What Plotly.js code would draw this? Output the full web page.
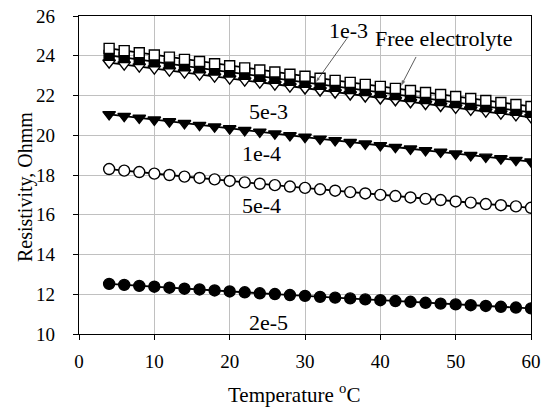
<!DOCTYPE html>
<html>
<head>
<meta charset="utf-8">
<script src="https://cdn.plot.ly/plotly-3.0.1.min.js"></script>
<style>html,body{margin:0;padding:0;background:#fff;}#chart{width:544px;height:407px;}</style>
</head>
<body>
<div id="chart"></div>
<script>
// Temperature (°C)
const temperature = [4,6,8,10,12,14,16,18,20,22,24,26,28,30,32,34,36,38,40,42,44,46,48,50,52,54,56,58,60];

// Resistivity (Ohmm) per concentration
const res_1e3 = [24.37,24.26,24.15,24.04,23.93,23.82,23.71,23.60,23.50,23.39,23.28,23.18,23.07,22.97,22.87,22.76,22.66,22.56,22.46,22.36,22.25,22.15,22.05,21.95,21.85,21.75,21.65,21.55,21.45];
const res_free = [24.02,23.91,23.81,23.70,23.60,23.49,23.39,23.28,23.18,23.07,22.97,22.87,22.76,22.66,22.56,22.46,22.35,22.25,22.15,22.05,21.95,21.85,21.75,21.65,21.55,21.45,21.35,21.25,21.15];
const res_5e3 = [23.65,23.55,23.45,23.35,23.25,23.15,23.05,22.95,22.85,22.75,22.65,22.55,22.45,22.35,22.25,22.15,22.05,21.95,21.85,21.76,21.66,21.57,21.47,21.38,21.28,21.19,21.09,21.00,20.90];
const res_1e4 = [21.05,20.96,20.87,20.78,20.69,20.60,20.51,20.43,20.34,20.25,20.17,20.08,19.99,19.91,19.82,19.74,19.65,19.57,19.49,19.40,19.32,19.24,19.16,19.07,18.99,18.91,18.83,18.75,18.67];
const res_5e4 = [18.30,18.22,18.15,18.07,18.00,17.92,17.85,17.78,17.70,17.63,17.56,17.49,17.42,17.35,17.28,17.21,17.14,17.07,17.00,16.94,16.87,16.80,16.74,16.67,16.61,16.54,16.48,16.42,16.35];
const res_2e5 = [12.52,12.47,12.42,12.38,12.33,12.28,12.24,12.19,12.14,12.10,12.05,12.01,11.96,11.92,11.87,11.83,11.79,11.74,11.70,11.66,11.62,11.57,11.53,11.49,11.45,11.41,11.37,11.33,11.29];

const labels = ["1e-3","Free electrolyte","5e-3","1e-4","5e-4","2e-5"];
const xTitle = "Temperature <sup>o</sup>C";
const yTitle = "Resistivity, Ohmm";

// Label pointer lines (tail -> tip), in data units
const pointer_1e3_x = [35.6, 31.46];
const pointer_1e3_y = [24.89, 22.68];
const pointer_free_x = [44.74, 42.74];
const pointer_free_y = [23.94, 22.48];

const FONT = "Liberation Serif, Times New Roman, serif";

function tr(name, y, symbol, fill, size) {
  return {
    type: "scatter", mode: "lines+markers", name: name,
    x: temperature, y: y,
    line: {color: "#000", width: 1.8},
    marker: {symbol: symbol, size: size, color: fill, line: {color: "#000", width: 1.4}}
  };
}

function pointer(xs, ys, headSize) {
  return {
    type: "scatter", mode: "lines+markers", x: xs, y: ys, hoverinfo: "skip",
    line: {color: "#333", width: 0.8},
    marker: {symbol: ["circle", "arrow"], size: [0, headSize], color: "#333",
             angleref: "previous", line: {width: 0}}
  };
}

const data = [
  tr(labels[5], res_2e5, "circle", "#000", 11),
  tr(labels[4], res_5e4, "circle", "#fff", 11),
  tr(labels[3], res_1e4, "triangle-down", "#000", 11),
  tr(labels[2], res_5e3, "triangle-down", "#fff", 11),
  tr(labels[1], res_free, "square", "#000", 10),
  tr(labels[0], res_1e3, "square", "#fff", 10),
  pointer(pointer_1e3_x, pointer_1e3_y, 5),
  pointer(pointer_free_x, pointer_free_y, 6)
];

const annFont = {family: FONT, size: 22, color: "#000"};
const annotations = [
  {x: 35.84, y: 25.25, text: labels[0], showarrow: false, font: annFont, xref: "x", yref: "y"},
  {x: 48.4, y: 24.89, text: labels[1], showarrow: false, font: annFont, xref: "x", yref: "y"},
  {x: 25.2, y: 21.22, text: labels[2], showarrow: false, font: annFont, xref: "x", yref: "y"},
  {x: 24.2, y: 19.08, text: labels[3], showarrow: false, font: annFont, xref: "x", yref: "y"},
  {x: 24.2, y: 16.49, text: labels[4], showarrow: false, font: annFont, xref: "x", yref: "y"},
  {x: 25.2, y: 10.60, text: labels[5], showarrow: false, font: annFont, xref: "x", yref: "y"},
  {x: 0.4757, y: -0.186, xref: "paper", yref: "paper", xanchor: "center", yanchor: "middle",
   text: xTitle, showarrow: false, font: {family: FONT, size: 21, color: "#000"}},
  {x: -0.1195, y: 0.462, xref: "paper", yref: "paper", xanchor: "center", yanchor: "middle",
   text: yTitle, showarrow: false, textangle: -90, font: {family: FONT, size: 20, color: "#000"}}
];

const layout = {
  width: 544, height: 407,
  margin: {l: 79, r: 13, t: 16, b: 73},
  paper_bgcolor: "#fff", plot_bgcolor: "#fff",
  showlegend: false,
  font: {family: FONT, size: 19, color: "#000"},
  xaxis: {
    range: [0, 60], dtick: 10, tick0: 0,
    showgrid: true, gridcolor: "#c0c0c0", gridwidth: 1,
    zeroline: false, showline: true, linecolor: "#000", linewidth: 1.3, mirror: true,
    ticks: "outside", ticklen: 5, tickcolor: "#000",
    ticklabelstandoff: 5,
    tickfont: {family: FONT, size: 19}
  },
  yaxis: {
    range: [10, 26], dtick: 2, tick0: 10,
    showgrid: true, gridcolor: "#c0c0c0", gridwidth: 1,
    zeroline: false, showline: true, linecolor: "#000", linewidth: 1.3, mirror: true,
    ticks: "outside", ticklen: 5, tickcolor: "#000",
    ticklabelstandoff: 14,
    tickfont: {family: FONT, size: 19}
  },
  annotations: annotations
};

Plotly.newPlot("chart", data, layout, {staticPlot: true, displayModeBar: false});
</script>
</body>
</html>
